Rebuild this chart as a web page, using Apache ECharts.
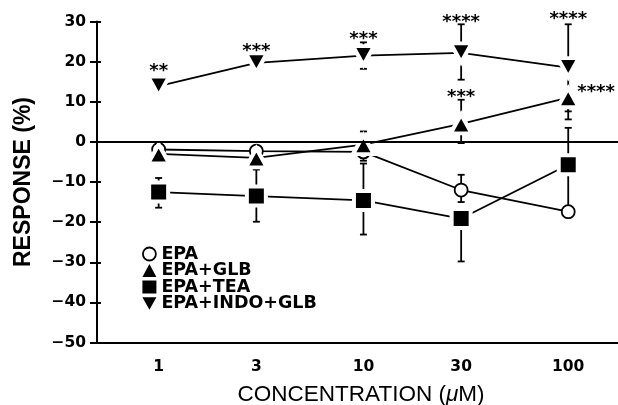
<!DOCTYPE html>
<html><head><meta charset="utf-8">
<script src="https://cdn.jsdelivr.net/npm/echarts@6/dist/echarts.min.js"></script>
<style>html,body{margin:0;padding:0;background:#fff}#c{width:618px;height:405px}</style>
</head><body><div id="c"></div>
<script>
// ---- data ----
const concentrations = [1, 3, 10, 30, 100];
const xTickLabels = ['1', '3', '10', '30', '100'];
const seriesNames = ['EPA', 'EPA+GLB', 'EPA+TEA', 'EPA+INDO+GLB'];

const epa        = [-1.9, -2.3, -2.5, -12.0, -17.4];
const epaGlb     = [-3.0, -4.0, -0.7, 4.5, 11.0];
const epaTea     = [-12.5, -13.5, -14.6, -19.1, -5.7];
const epaIndoGlb = [13.9, 19.7, 21.5, 22.2, 18.5];

const epaHigh        = [null, null, null, -8.2, null];
const epaLow         = [null, null, -4.7, -15.0, null];
const epaGlbHigh     = [null, null, 2.6, 10.5, null];
const epaGlbLow      = [null, null, null, -0.3, 5.6];
const epaTeaHigh     = [-9.0, -6.9, -5.4, null, 3.5];
const epaTeaLow      = [-16.4, -19.9, -23.1, -29.8, -16.2];
const epaIndoGlbHigh = [null, null, 24.8, 29.3, 29.3];
const epaIndoGlbLow  = [null, null, 18.2, 15.5, 7.6];

const yTicks = [-50, -40, -30, -20, -10, 0, 10, 20, 30];

const annConc  = [1, 3, 10, 30, 100, 30, 100];
const annValue = [18.9, 23.8, 26.8, 31.1, 31.7, 12.4, 13.5];
const annText  = ['**', '***', '***', '****', '****', '***', '****'];
const annSide  = ['top', 'top', 'top', 'top', 'top', 'top', 'right'];

const xTitle = ['CONCENTRATION (', 'μ', 'M)'];
const yTitle = 'RESPONSE (%)';

// ---- build ----
const lx = c => Math.log10(c);
const values = [epa, epaGlb, epaTea, epaIndoGlb];
const highs = [epaHigh, epaGlbHigh, epaTeaHigh, epaIndoGlbHigh];
const lows = [epaLow, epaGlbLow, epaTeaLow, epaIndoGlbLow];

const errData = [];
values.forEach((vals, s) => {
  vals.forEach((v, i) => {
    if (highs[s][i] != null) errData.push([lx(concentrations[i]), v, highs[s][i]]);
    if (lows[s][i] != null) errData.push([lx(concentrations[i]), v, lows[s][i]]);
  });
});

const annData = annConc.map((c, i) => [lx(c), annValue[i], i]);

const symbols = [
  { symbol: 'circle', size: 13, rotate: 0, fill: '#fff', border: '#000', bw: 1.8 },
  { symbol: 'triangle', size: [21, 19], rotate: 0, fill: '#000', border: '#fff', bw: 4 },
  { symbol: 'rect', size: 19, rotate: 0, fill: '#000', border: '#fff', bw: 4 },
  { symbol: 'triangle', size: [21, 19], rotate: 180, fill: '#000', border: '#fff', bw: 4 }
];
const legendIcons = ['circle', 'triangle', 'rect', 'path://M0,0 L10,0 L5,9 Z'];

const lineSeries = seriesNames.map((name, s) => {
  const sy = symbols[s];
  const ser = {
    name: name,
    type: 'line',
    z: 3,
    data: values[s].map((v, i) => [lx(concentrations[i]), v]),
    symbol: sy.symbol,
    symbolSize: sy.size,
    symbolRotate: sy.rotate,
    showAllSymbol: true,
    lineStyle: { color: '#000', width: 1.8 },
    itemStyle: { color: sy.fill, borderColor: sy.border, borderWidth: sy.bw, opacity: 1 },
    emphasis: { disabled: true },
    animation: false
  };
  if (s === 0) {
    ser.markLine = {
      silent: true, symbol: ['none', 'none'], animation: false,
      label: { show: false },
      lineStyle: { color: '#000', width: 1.8, type: 'solid' },
      data: [{ yAxis: 0 }]
    };
  }
  return ser;
});

const chart = echarts.init(document.getElementById('c'), null, { renderer: 'canvas' });
chart.setOption({
  backgroundColor: '#fff',
  animation: false,
  grid: { left: 97, right: 0, top: 21.5, bottom: 62.5, containLabel: false },
  legend: {
    orient: 'vertical',
    left: 137, top: 240,
    itemWidth: 14, itemHeight: 13, itemGap: -1.5,
    textStyle: { fontFamily: 'DejaVu Sans', fontWeight: 'bold', fontSize: 17.5, color: '#000' },
    selectedMode: false,
    data: seriesNames.map((n, s) => ({
      name: n, icon: legendIcons[s],
      itemStyle: s === 0 ? { color: '#fff', borderColor: '#000', borderWidth: 1.8 } : { color: '#000', borderWidth: 0 }
    }))
  },
  graphic: [{
    type: 'text', x: 361, y: 395, silent: true,
    style: {
      text: '{a|' + xTitle[0] + '}{b|' + xTitle[1] + '}{a|' + xTitle[2] + '}',
      align: 'center', verticalAlign: 'middle',
      rich: {
        a: { fontFamily: 'Liberation Sans', fontSize: 22.5, fill: '#000' },
        b: { fontFamily: 'Liberation Sans', fontSize: 22.5, fontStyle: 'italic', fill: '#000' }
      }
    }
  }],
  xAxis: {
    type: 'value',
    min: Math.log10(0.5), max: Math.log10(175),
    axisLine: { show: true, onZero: false, lineStyle: { color: '#000', width: 2 } },
    axisTick: { show: false },
    splitLine: { show: false },
    axisLabel: {
      customValues: concentrations.map(lx),
      formatter: v => xTickLabels[concentrations.findIndex(c => Math.abs(lx(c) - v) < 1e-6)],
      fontFamily: 'DejaVu Sans', fontWeight: 'bold', fontSize: 15.5, color: '#000', margin: 16
    }
  },
  yAxis: [{
    type: 'value', position: 'left',
    min: yTicks[0], max: yTicks[yTicks.length - 1], interval: 10,
    axisLine: { show: true, onZero: false, lineStyle: { color: '#000', width: 2 } },
    axisTick: { show: true, inside: false, length: 7, lineStyle: { color: '#000', width: 2 } },
    splitLine: { show: false },
    axisLabel: {
      formatter: v => (v < 0 ? '\u2212' + (-v) : String(v)),
      fontFamily: 'DejaVu Sans', fontWeight: 'bold', fontSize: 15.5, color: '#000', margin: 11
    },
    name: yTitle,
    nameLocation: 'middle', nameGap: 62,
    nameTextStyle: { fontFamily: 'Liberation Sans', fontWeight: 'bold', fontSize: 23, color: '#000' }
  }, {
    type: 'value', position: 'left',
    min: yTicks[0], max: yTicks[yTicks.length - 1], interval: 10,
    axisLine: { show: false, onZero: false },
    axisTick: { show: true, inside: true, length: 4, lineStyle: { color: '#000', width: 2 } },
    axisLabel: { show: false },
    splitLine: { show: false }
  }],
  series: [
    {
      type: 'custom', z: 1, silent: true,
      data: errData,
      encode: { x: 0, y: [1, 2] },
      renderItem: function (params, api) {
        const a = api.coord([api.value(0), api.value(1)]);
        const b = api.coord([api.value(0), api.value(2)]);
        const st = { stroke: '#000', lineWidth: 1.8, fill: null };
        return {
          type: 'group', children: [
            { type: 'line', shape: { x1: a[0], y1: a[1], x2: b[0], y2: b[1] }, style: st },
            { type: 'line', shape: { x1: b[0] - 3.5, y1: b[1], x2: b[0] + 3.5, y2: b[1] }, style: st }
          ]
        };
      }
    },
    ...lineSeries,
    {
      type: 'custom', z: 5, silent: true,
      data: annData,
      encode: { x: 0, y: 1 },
      renderItem: function (params, api) {
        const idx = api.value(2);
        const p = api.coord([api.value(0), api.value(1)]);
        const right = annSide[idx] === 'right';
        return {
          type: 'text',
          x: p[0] + (right ? 9 : 0), y: p[1] + 5,
          style: {
            text: annText[idx],
            fill: '#000',
            fontFamily: 'DejaVu Sans', fontWeight: 'bold', fontSize: 18,
            align: right ? 'left' : 'center', verticalAlign: 'middle'
          }
        };
      }
    }
  ]
});
</script>
</body></html>
